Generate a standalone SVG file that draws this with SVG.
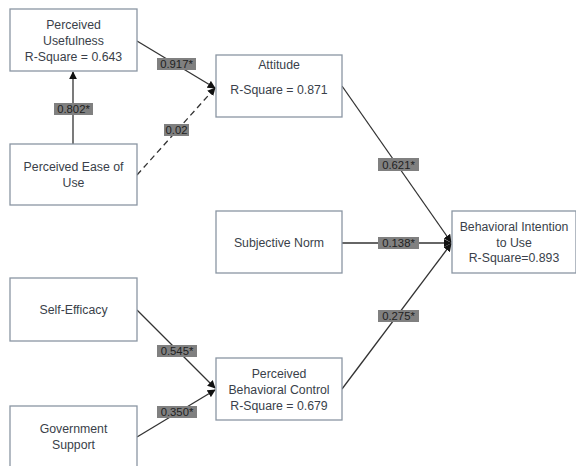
<svg xmlns="http://www.w3.org/2000/svg" width="576" height="466" viewBox="0 0 576 466">
<style>
.box{fill:#fff;stroke:#8a96a3;stroke-width:1.3}
.t{font-family:"Liberation Sans",Arial,sans-serif;font-size:12.3px;fill:#3a3f4a;text-anchor:middle}
.c{stroke:#333;stroke-width:1.3;fill:none}
.d{stroke-dasharray:6,4}
.lb{fill:#808080}
.lt{font-family:"Liberation Sans",Arial,sans-serif;font-size:11.3px;fill:#222;text-anchor:middle}
</style>
<defs>
<marker id="ah" viewBox="0 0 10 10" refX="9" refY="5" markerWidth="8" markerHeight="8" markerUnits="userSpaceOnUse" orient="auto">
<path d="M0,0 L10,5 L0,10 z" fill="#111"/>
</marker>
</defs>
<rect width="576" height="466" fill="#fff"/>
<g id="connectors">
<line class="c" x1="73" y1="144" x2="73" y2="72" marker-end="url(#ah)"/>
<line class="c" x1="137" y1="41" x2="215" y2="88" marker-end="url(#ah)"/>
<line class="c d" x1="137" y1="175" x2="215" y2="88" marker-end="url(#ah)"/>
<line class="c" x1="342" y1="86" x2="451" y2="242" marker-end="url(#ah)"/>
<line class="c" x1="342" y1="243" x2="451" y2="243" marker-end="url(#ah)"/>
<line class="c" x1="342" y1="389" x2="451" y2="244" marker-end="url(#ah)"/>
<line class="c" x1="137" y1="310" x2="215" y2="388" marker-end="url(#ah)"/>
<line class="c" x1="137" y1="437" x2="215" y2="390" marker-end="url(#ah)"/>
<rect class="lb" x="54" y="103" width="39" height="12"/><text class="lt" x="73.5" y="113">0.802*</text>
<rect class="lb" x="157" y="58" width="39" height="12"/><text class="lt" x="176.5" y="68">0.917*</text>
<rect class="lb" x="164" y="124" width="25" height="12"/><text class="lt" x="176.5" y="134">0.02</text>
<rect class="lb" x="378" y="158" width="41" height="13"/><text class="lt" x="398.5" y="168.5">0.621*</text>
<rect class="lb" x="378" y="237" width="41" height="12"/><text class="lt" x="398.5" y="247">0.138*</text>
<rect class="lb" x="378" y="310" width="41" height="12"/><text class="lt" x="398.5" y="320">0.275*</text>
<rect class="lb" x="157" y="345" width="40" height="12"/><text class="lt" x="177" y="355">0.545*</text>
<rect class="lb" x="157" y="406" width="40" height="12"/><text class="lt" x="177" y="416">0.350*</text>
</g>
<g id="pu"><rect class="box" x="10" y="9" width="127" height="62"/>
<text class="t" x="73.5" y="29">Perceived</text><text class="t" x="73.5" y="45">Usefulness</text><text class="t" x="73.5" y="61">R-Square = 0.643</text></g>
<g id="peou"><rect class="box" x="10" y="144" width="127" height="61"/>
<text class="t" x="73.5" y="171">Perceived Ease of</text><text class="t" x="73.5" y="187">Use</text></g>
<g id="att"><rect class="box" x="216" y="55" width="126" height="62"/>
<text class="t" x="279" y="69">Attitude</text><text class="t" x="279" y="94">R-Square = 0.871</text></g>
<g id="sn"><rect class="box" x="216" y="211" width="126" height="62"/>
<text class="t" x="279" y="247">Subjective Norm</text></g>
<g id="bi"><rect class="box" x="452" y="211" width="124" height="62"/>
<text class="t" x="514" y="231">Behavioral Intention</text><text class="t" x="514" y="247">to Use</text><text class="t" x="514" y="262">R-Square=0.893</text></g>
<g id="se"><rect class="box" x="10" y="278" width="127" height="63"/>
<text class="t" x="73.5" y="314">Self-Efficacy</text></g>
<g id="gs"><rect class="box" x="10" y="406" width="127" height="64"/>
<text class="t" x="73.5" y="433">Government</text><text class="t" x="73.5" y="449">Support</text></g>
<g id="pbc"><rect class="box" x="216" y="358" width="126" height="62"/>
<text class="t" x="279" y="378">Perceived</text><text class="t" x="279" y="394">Behavioral Control</text><text class="t" x="279" y="410">R-Square = 0.679</text></g>
</svg>
